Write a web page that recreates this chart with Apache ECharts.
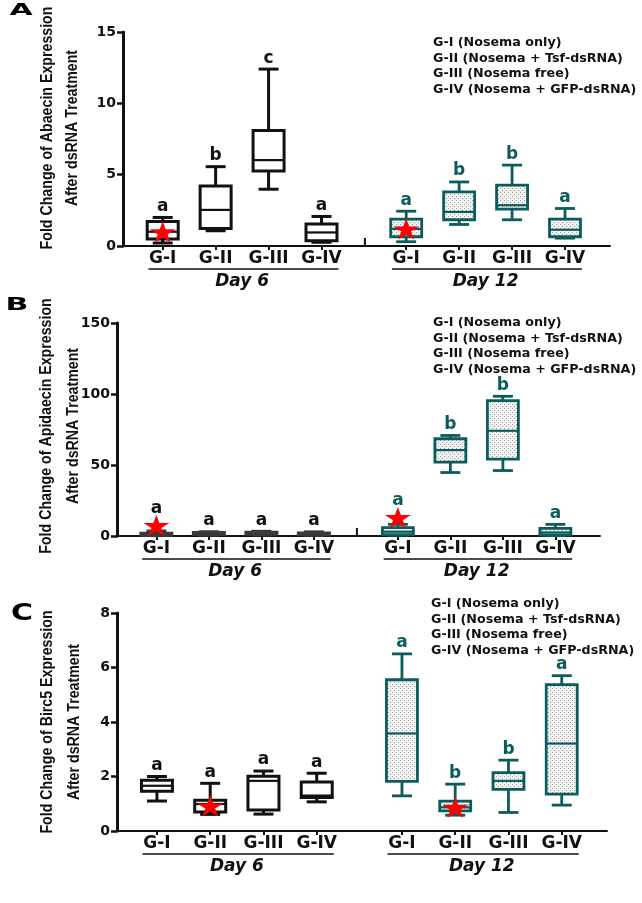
<!DOCTYPE html>
<html><head><meta charset="utf-8">
<script src="https://cdn.jsdelivr.net/npm/echarts@6/dist/echarts.min.js"></script>
<style>html,body{margin:0;padding:0;background:#fff}#main{width:642px;height:903px}</style>
</head><body><div id="main"></div>
<script>
// ---------------- DATA ----------------
const groups = ['G-I', 'G-II', 'G-III', 'G-IV'];
const dayNames = ['Day 6', 'Day 12'];
const legendLines = ['G-I (Nosema only)', 'G-II (Nosema + Tsf-dsRNA)', 'G-III (Nosema free)', 'G-IV (Nosema + GFP-dsRNA)'];
const panelLetters = ['A', 'B', 'C'];

// box statistics: [min, Q1, median, Q3, max]
const abaecinDay6 = [[0.21, 0.49, 1.0, 1.72, 2.0], [1.07, 1.23, 2.53, 4.21, 5.56], [3.98, 5.26, 6.02, 8.1, 12.4], [0.26, 0.37, 0.95, 1.54, 2.07]];
const abaecinDay12 = [[0.3, 0.65, 1.2, 1.88, 2.44], [1.51, 1.84, 2.39, 3.79, 4.49], [1.84, 2.58, 2.86, 4.26, 5.67], [0.55, 0.65, 1.14, 1.88, 2.63]];
const apidaecinDay6 = [[0.3, 0.6, 1.0, 2.0, 3.5], [0.6, 1.0, 1.6, 2.4, 3.0], [0.7, 1.2, 1.8, 2.6, 3.3], [0.4, 0.8, 1.3, 2.2, 2.9]];
const apidaecinDay12 = [[0.5, 1.0, 3.0, 5.9, 8.2], [44.7, 52.0, 60.5, 68.5, 70.8], [46.1, 54.1, 74.1, 95.3, 98.4], [0.3, 0.7, 2.5, 5.4, 8.2]];
const birc5Day6 = [[1.1, 1.46, 1.66, 1.86, 2.0], [0.61, 0.7, 0.99, 1.13, 1.75], [0.62, 0.77, 1.84, 2.01, 2.2], [1.07, 1.23, 1.3, 1.8, 2.12]];
const birc5Day12 = [[1.29, 1.82, 3.58, 5.55, 6.5], [0.58, 0.74, 0.87, 1.1, 1.72], [0.68, 1.53, 1.84, 2.14, 2.6], [0.95, 1.35, 3.21, 5.37, 5.7]];

// significance letters
const abaecinLetters6 = ['a', 'b', 'c', 'a'];
const abaecinLetters12 = ['a', 'b', 'b', 'a'];
const apidaecinLetters6 = ['a', 'a', 'a', 'a'];
const apidaecinLetters12 = ['a', 'b', 'b', 'a'];
const birc5Letters6 = ['a', 'a', 'a', 'a'];
const birc5Letters12 = ['a', 'b', 'b', 'a'];

// red stars: [dayIndex, groupIndex, value]
const abaecinStars = [[0, 0, 1.0], [1, 0, 1.2]];
const apidaecinStars = [[0, 0, 7.5], [1, 0, 13]];
const birc5Stars = [[0, 1, 0.92], [1, 1, 0.87]];

// y ticks
const abaecinTicks = [0, 5, 10, 15];
const apidaecinTicks = [0, 50, 100, 150];
const birc5Ticks = [0, 2, 4, 6, 8];

const abaecinTitle = ['Fold Change of Abaecin Expression', 'After dsRNA Treatment'];
const apidaecinTitle = ['Fold Change of Apidaecin Expression', 'After dsRNA Treatment'];
const birc5Title = ['Fold Change of Birc5 Expression', 'After dsRNA Treatment'];

// ---------------- STYLE / LAYOUT ----------------
const TEAL = '#0d5c5c';
const DARK = '#111111';
const FONT = '"DejaVu Sans", "Liberation Sans", sans-serif';
const TFONT = '"Liberation Sans", Arial, sans-serif';
const X_MIN = 0.25, X_MAX = 9.45, DAY12_OFFSET = 5.6, GAP_X = 4.82;
const layout = [
  { left: 123, top: 32, width: 487, height: 214, titleX: [47, 72], titleY: 128, legendX: 433, legendY: 43, letter: [21, 11], letterScale: 0.55, gap: true },
  { left: 117, top: 323, width: 483, height: 213, titleX: [46, 73], titleY: 426, legendX: 433, legendY: 323, letter: [17, 305], letterScale: 0.6, gap: true },
  { left: 117, top: 613, width: 490, height: 218, titleX: [47, 74], titleY: 722, legendX: 431, legendY: 604, letter: [22, 614], letterScale: 0.75, gap: false }
];

const panels = [
  { days: [abaecinDay6, abaecinDay12], letters: [abaecinLetters6, abaecinLetters12], stars: abaecinStars, ticks: abaecinTicks, title: abaecinTitle },
  { days: [apidaecinDay6, apidaecinDay12], letters: [apidaecinLetters6, apidaecinLetters12], stars: apidaecinStars, ticks: apidaecinTicks, title: apidaecinTitle },
  { days: [birc5Day6, birc5Day12], letters: [birc5Letters6, birc5Letters12], stars: birc5Stars, ticks: birc5Ticks, title: birc5Title }
];

const posOf = (d, g) => (d === 0 ? g + 1 : g + DAY12_OFFSET);
const allPos = [];
for (let d = 0; d < 2; d++) for (let g = 0; g < 4; g++) allPos.push(posOf(d, g));
const labelAt = v => { for (let d = 0; d < 2; d++) for (let g = 0; g < 4; g++) if (Math.abs(posOf(d, g) - v) < 0.01) return groups[g]; return ''; };

// dotted pattern for Day 12 boxes
const pc = document.createElement('canvas');
pc.width = 4; pc.height = 4;
const pctx = pc.getContext('2d');
pctx.fillStyle = '#f1f1f1'; pctx.fillRect(0, 0, 4, 4);
pctx.fillStyle = '#9c9c9c'; pctx.fillRect(0, 0, 1, 1); pctx.fillRect(2, 2, 1, 1);
const dotPattern = { type: 'pattern', image: pc, repeat: 'repeat' };

const starPath = 'path://M50,0 L61,35 L98,35 L68,57 L79,91 L50,70 L21,91 L32,57 L2,35 L39,35 Z';

// ---------------- OPTION ----------------
const grids = [], xAxes = [], yAxes = [], series = [];
panels.forEach((p, k) => {
  const L = layout[k];
  grids.push({ left: L.left, top: L.top, width: L.width, height: L.height, containLabel: false });
  xAxes.push({
    type: 'value', gridIndex: k, min: X_MIN, max: X_MAX,
    splitLine: { show: false },
    axisLine: { show: true, onZero: false, lineStyle: { color: DARK, width: 2 } },
    axisTick: { show: true, customValues: allPos, length: 4, lineStyle: { color: DARK, width: 2 } },
    axisLabel: { show: true, customValues: allPos, formatter: labelAt, margin: 4, color: DARK, fontFamily: FONT, fontWeight: 'bold', fontSize: 17 }
  });
  const t = p.ticks;
  yAxes.push({
    type: 'value', gridIndex: k, min: t[0], max: t[t.length - 1], interval: t[1] - t[0],
    splitLine: { show: false },
    axisLine: { show: true, lineStyle: { color: DARK, width: 3 } },
    axisTick: { show: true, length: 6, lineStyle: { color: DARK, width: 2.5 } },
    axisLabel: { margin: 7, color: DARK, fontFamily: FONT, fontWeight: 'bold', fontSize: 14 }
  });

  const items = [];
  const meta = [];
  p.days.forEach((arr, d) => arr.forEach((s, g) => {
    items.push([posOf(d, g)].concat(s).concat([d]));
    const st = p.stars.find(z => z[0] === d && z[1] === g);
    meta.push({ letter: p.letters[d][g], star: st ? st[2] : null });
  }));

  series.push({
    type: 'custom', xAxisIndex: k, yAxisIndex: k, data: items, clip: false, z: 2,
    renderItem: function (params, api) {
      const x = api.value(0);
      const v = [1, 2, 3, 4, 5].map(i => api.value(i));
      const d = api.value(6);
      const c = d ? TEAL : (k === 1 ? '#3a3a3a' : DARK);
      const Y = v.map(val => api.coord([x, val])[1]);
      const cx = api.coord([x, v[0]])[0];
      const bw = 31, cw = 20, lw = d ? 2.8 : 3;
      const m = meta[params.dataIndex];
      let ly = Y[4] - 11;
      if (m.star != null) ly = Math.min(ly, api.coord([x, m.star])[1] - 17);
      const ls = { stroke: c, lineWidth: lw };
      return {
        type: 'group', children: [
          { type: 'line', shape: { x1: cx, y1: Y[4], x2: cx, y2: Y[3] }, style: ls },
          { type: 'line', shape: { x1: cx, y1: Y[1], x2: cx, y2: Y[0] }, style: ls },
          { type: 'line', shape: { x1: cx - cw / 2, y1: Y[4], x2: cx + cw / 2, y2: Y[4] }, style: ls },
          { type: 'line', shape: { x1: cx - cw / 2, y1: Y[0], x2: cx + cw / 2, y2: Y[0] }, style: ls },
          { type: 'rect', shape: { x: cx - bw / 2, y: Y[3], width: bw, height: Math.max(Y[1] - Y[3], 1) }, style: { fill: d ? dotPattern : '#ffffff', stroke: c, lineWidth: lw } },
          { type: 'line', shape: { x1: cx - bw / 2, y1: Y[2], x2: cx + bw / 2, y2: Y[2] }, style: { stroke: c, lineWidth: 2.2 } },
          { type: 'text', x: cx, y: ly, style: { text: m.letter, fill: d ? TEAL : DARK, font: 'bold 17px ' + FONT, align: 'center', verticalAlign: 'middle', textAlign: 'center', textVerticalAlign: 'middle' } }
        ]
      };
    }
  });

  series.push({
    type: 'scatter', xAxisIndex: k, yAxisIndex: k, z: 5, clip: false,
    symbol: starPath, symbolSize: [26, 21],
    itemStyle: { color: '#ff0000', opacity: 1 },
    emphasis: { disabled: true },
    data: p.stars.map(s => [posOf(s[0], s[1]), s[2]])
  });
});

const chart = echarts.init(document.getElementById('main'));
chart.setOption({
  animation: false,
  backgroundColor: '#ffffff',
  grid: grids, xAxis: xAxes, yAxis: yAxes, series: series
});

// ---------------- DECORATIONS ----------------
const graphics = [];
panels.forEach((p, k) => {
  const L = layout[k];
  const px = x => chart.convertToPixel({ xAxisIndex: k, yAxisIndex: k }, [x, 0]);
  const axisY = px(1)[1];
  // y titles
  p.title.forEach((line, i) => {
    graphics.push({
      type: 'text', x: L.titleX[i], y: L.titleY, rotation: Math.PI / 2, scaleX: 0.835,
      style: { text: line, fill: DARK, font: 'bold 17px ' + TFONT, align: 'center', verticalAlign: 'middle', textAlign: 'center', textVerticalAlign: 'middle' }
    });
  });
  // legend
  legendLines.forEach((line, i) => {
    graphics.push({
      type: 'text', x: L.legendX, y: L.legendY + i * 15.4,
      style: { text: line, fill: DARK, font: 'bold 12.7px ' + FONT, align: 'left', verticalAlign: 'middle', textAlign: 'left', textVerticalAlign: 'middle' }
    });
  });
  // panel letter
  graphics.push({
    type: 'text', x: L.letter[0], y: L.letter[1], scaleY: L.letterScale,
    style: { text: panelLetters[k], fill: '#000', font: 'bold 30px ' + FONT, align: 'center', verticalAlign: 'middle', textAlign: 'center', textVerticalAlign: 'middle' }
  });
  // day underlines and labels
  [0, 1].forEach(d => {
    const a = px(posOf(d, 0) - 0.27)[0];
    const b = px(posOf(d, 3) + 0.32)[0];
    graphics.push({ type: 'line', shape: { x1: a, y1: axisY + 23, x2: b, y2: axisY + 23 }, style: { stroke: DARK, lineWidth: 1.6 } });
    const mid = px((posOf(d, 0) + posOf(d, 3)) / 2)[0];
    graphics.push({
      type: 'text', x: mid, y: axisY + 36,
      style: { text: dayNames[d], fill: DARK, font: 'italic bold 17px ' + FONT, align: 'center', verticalAlign: 'middle', textAlign: 'center', textVerticalAlign: 'middle' }
    });
  });
  if (L.gap) {
    const g = px(GAP_X);
    graphics.push({ type: 'line', shape: { x1: g[0], y1: axisY, x2: g[0], y2: axisY - 8 }, style: { stroke: DARK, lineWidth: 2 } });
  }
});
chart.setOption({ graphic: graphics });
</script>
</body></html>
